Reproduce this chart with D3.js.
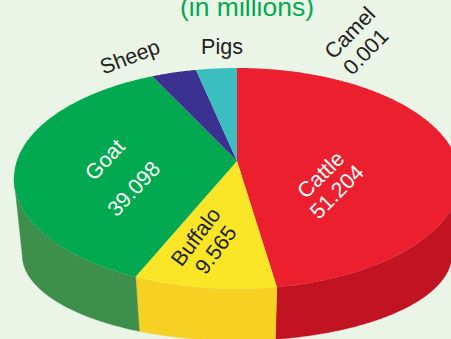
<!DOCTYPE html>
<html>
<head>
<meta charset="utf-8">
<script src="https://cdn.jsdelivr.net/npm/d3@7"></script>
<style>
html,body{margin:0;padding:0;background:#eaf4e7;overflow:hidden}
svg{display:block}
text{font-family:"Liberation Sans",Arial,sans-serif}
</style>
</head>
<body>
<svg id="chart" width="451" height="339"></svg>
<script>
// Livestock population, in millions
const categories = ["Cattle", "Buffalo", "Goat", "Sheep", "Pigs", "Camel"];
const values = [51.204, 9.565, 39.098, 4.09, 3.71, 0.001];

const topColors = ["#ec1f2e", "#fae627", "#00a94f", "#3a3190", "#3abebf", "#3abebf"];
const sideColors = ["#c11322", "#f6d023", "#3e8e4c", "#2b2570", "#2c9a9b", "#2c9a9b"];

const svg = d3.select("#chart");
const W = 451, H = 339;
svg.append("rect").attr("width", W).attr("height", H).attr("fill", "#eaf4e7");

const pie = d3.pie().sort(null).value(d => d);
const arcs = pie(values);

// Tilted-disc projection: a unit circle seen in perspective, so the hub sits
// above the centre of the resulting ellipse.
const k = 0.158;
function disc(cx, cy, a, b) {
  return angle => {
    const x = Math.sin(angle), y = -Math.cos(angle);
    const d = 1 - k * y;
    return [cx + a * x / d, cy + b * y / d];
  };
}
const hub = [237, 161];
const topRim = disc(hub[0], hub[1], 220.2, 107.7);
const baseRim = disc(237, 241.6, 212, 83.4);

const sample = (a0, a1) => {
  const n = Math.max(2, Math.ceil((a1 - a0) / 0.01));
  return d3.range(n + 1).map(i => a0 + (a1 - a0) * i / n);
};
const line = d3.line();

// Outer wall: one slab per slice, clipped to the arc between the two
// silhouette angles, where the disc's edge turns away from the viewer
const walls = svg.append("g");
arcs.forEach((s, i) => {
  const front = sample(s.startAngle, s.endAngle).filter(t => Math.cos(t) <= -k);
  if (front.length < 2) return;
  const outline = front.map(topRim).concat(front.slice().reverse().map(baseRim));
  walls.append("path")
    .attr("d", line(outline) + "Z")
    .attr("fill", sideColors[i])
    .attr("stroke", sideColors[i])
    .attr("stroke-width", 0.4);
});

// Top face
const face = svg.append("g");
arcs.forEach((s, i) => {
  const outline = [hub].concat(sample(s.startAngle, s.endAngle).map(topRim));
  face.append("path")
    .attr("d", line(outline) + "Z")
    .attr("fill", topColors[i]);
});

// Title line
svg.append("text")
  .attr("x", 247).attr("y", 16)
  .attr("text-anchor", "middle")
  .attr("font-size", 26.5)
  .attr("fill", "#00a94f")
  .text("(in millions)");

// Slice captions
const fmt = d3.format(".3f");
const captions = [
  { text: categories[0], x: 321, y: 175, r: -45, c: "#ffffff" },
  { text: fmt(values[0]), x: 337, y: 192, r: -45, c: "#ffffff" },
  { text: categories[1], x: 196, y: 237, r: -53, c: "#231f20" },
  { text: fmt(values[1]), x: 216, y: 250, r: -53, c: "#231f20" },
  { text: categories[2], x: 105, y: 160, r: -47, c: "#ffffff" },
  { text: fmt(values[2]), x: 134, y: 189, r: -47, c: "#ffffff" },
  { text: categories[3], x: 130, y: 57, r: -21, c: "#231f20" },
  { text: categories[4], x: 222, y: 47, r: 0, c: "#231f20" },
  { text: categories[5], x: 350, y: 33, r: -46, c: "#231f20" },
  { text: fmt(values[5]), x: 366, y: 52, r: -46, c: "#231f20" }
];
svg.append("g").selectAll("text").data(captions).join("text")
  .attr("transform", d => `translate(${d.x},${d.y}) rotate(${d.r})`)
  .attr("text-anchor", "middle")
  .attr("dominant-baseline", "central")
  .attr("font-size", 21.5)
  .attr("fill", d => d.c)
  .text(d => d.text);
</script>
</body>
</html>
